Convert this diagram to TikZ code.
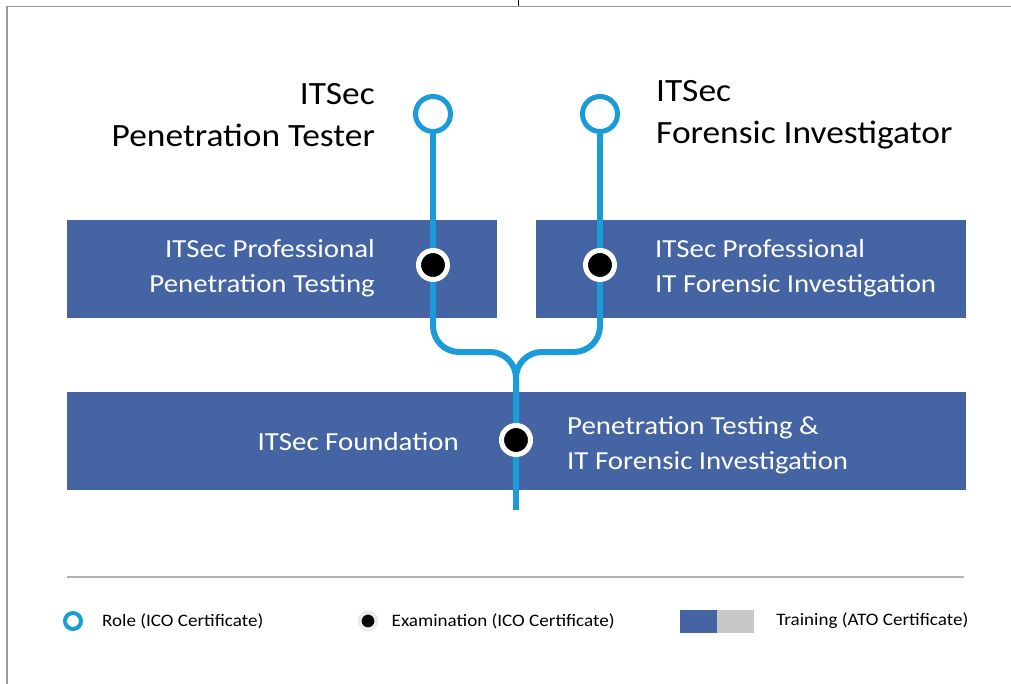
\documentclass[tikz,border=0pt]{standalone}
\usepackage{fontspec}
\setmainfont{Carlito}
\newfontfamily\widefont[FakeStretch=1.09]{Carlito}
\newfontfamily\widerfont[FakeStretch=1.11]{Carlito}
\usetikzlibrary{positioning,backgrounds}
\definecolor{boxblue}{HTML}{4464A3}
\definecolor{lineblue}{HTML}{1B9BD8}
\definecolor{legendgrey}{HTML}{C8C8C8}
\definecolor{framegrey}{HTML}{9A9A9A}
\begin{document}
\begin{tikzpicture}[x=1pt,y=-1pt,
    trainbox/.style={fill=boxblue, minimum height=98pt, inner sep=0pt, anchor=north west},
    role/.style={circle, draw=lineblue, line width=5pt, fill=white, minimum size=35pt, inner sep=0pt},
    exam/.style={circle, draw=white, line width=5pt, fill=black, minimum size=29pt, inner sep=0pt},
    track/.style={draw=lineblue, line width=6pt, rounded corners=26pt},
    title/.style={font=\widefont\fontsize{32.5}{42}\selectfont, inner sep=0pt},
    boxtext/.style={font=\widerfont\fontsize{26}{34.5}\selectfont, text=white, inner sep=0pt},
    legtext/.style={font=\widefont\fontsize{17.5}{20}\selectfont, inner sep=0pt, anchor=west}]
    \useasboundingbox (0,0) rectangle (1011,684);
    % frame
    \draw[framegrey, line width=1.5pt] (1011,6.5) -- (7,6.5) -- (7,684);
    \draw[line width=1pt] (518,0) -- (518,6.5);

    % training boxes
    \begin{scope}[on background layer]
        \node[trainbox, minimum width=430pt] (boxPT) at (67,220) {};
        \node[trainbox, minimum width=430pt] (boxFI) at (536,220) {};
        \node[trainbox, minimum width=899pt] (boxFound) at (67,392) {};
    \end{scope}

    % roles and examinations
    \node[role] (rolePT) at (433,114) {};
    \node[role] (roleFI) at (600,114) {};
    \node[exam] (examPT) at (433,265) {};
    \node[exam] (examFI) at (600,265) {};
    \node[exam] (examFound) at (516,440) {};
    \coordinate (fork) at (516,352);
    \coordinate (root) at (516,510);

    \begin{scope}[on background layer]
        \draw[track] (rolePT) -- (examPT);
        \draw[track] (roleFI) -- (examFI);
        \draw[track] (examPT) |- (fork) -- (examFound);
        \draw[track] (examFI) |- (fork) -- (examFound);
        \draw[track] (examFound) -- (root);
    \end{scope}

    \node[title, align=right, left=38pt of rolePT, yshift=-1pt] (titlePT) {ITSec\\Penetration Tester};
    \node[title, align=left, right=36pt of roleFI, yshift=-1pt] (titleFI) {ITSec\\Forensic Investigator};
    \node[boxtext, align=right, left=41pt of examPT, yshift=-3pt] (textPT) {ITSec Professional\\Penetration Testing};
    \node[boxtext, align=left, right=38pt of examFI, yshift=-3pt] (textFI) {ITSec Professional\\IT Forensic Investigation};
    \node[boxtext, left=40pt of examFound, yshift=-2pt] (textFound) {ITSec Foundation};
    \node[boxtext, align=left, right=34pt of examFound, yshift=-5pt] (textBoth) {Penetration Testing \&\\IT Forensic Investigation};

    % legend
    \draw[black!30, line width=2pt] (67,577) -- (964,577);
    \node[role, minimum size=16pt, line width=4pt] (legRole) at (73,621) {};
    \node[legtext, right=19pt of legRole] (legRoleText) {Role (ICO Certificate)};
    \node[exam, draw=black!8, minimum size=17pt, line width=4pt] (legExam) at (368,621) {};
    \node[legtext, right=13pt of legExam] (legExamText) {Examination (ICO Certificate)};
    \node[fill=boxblue, minimum width=37pt, minimum height=23pt, inner sep=0pt] (legBlue) at (698,621) {};
    \node[fill=legendgrey, minimum width=37pt, minimum height=23pt, inner sep=0pt, right=0pt of legBlue] (legGrey) {};
    \node[legtext, right=22pt of legGrey] (legTrainText) {Training (ATO Certificate)};
\end{tikzpicture}
\end{document}
